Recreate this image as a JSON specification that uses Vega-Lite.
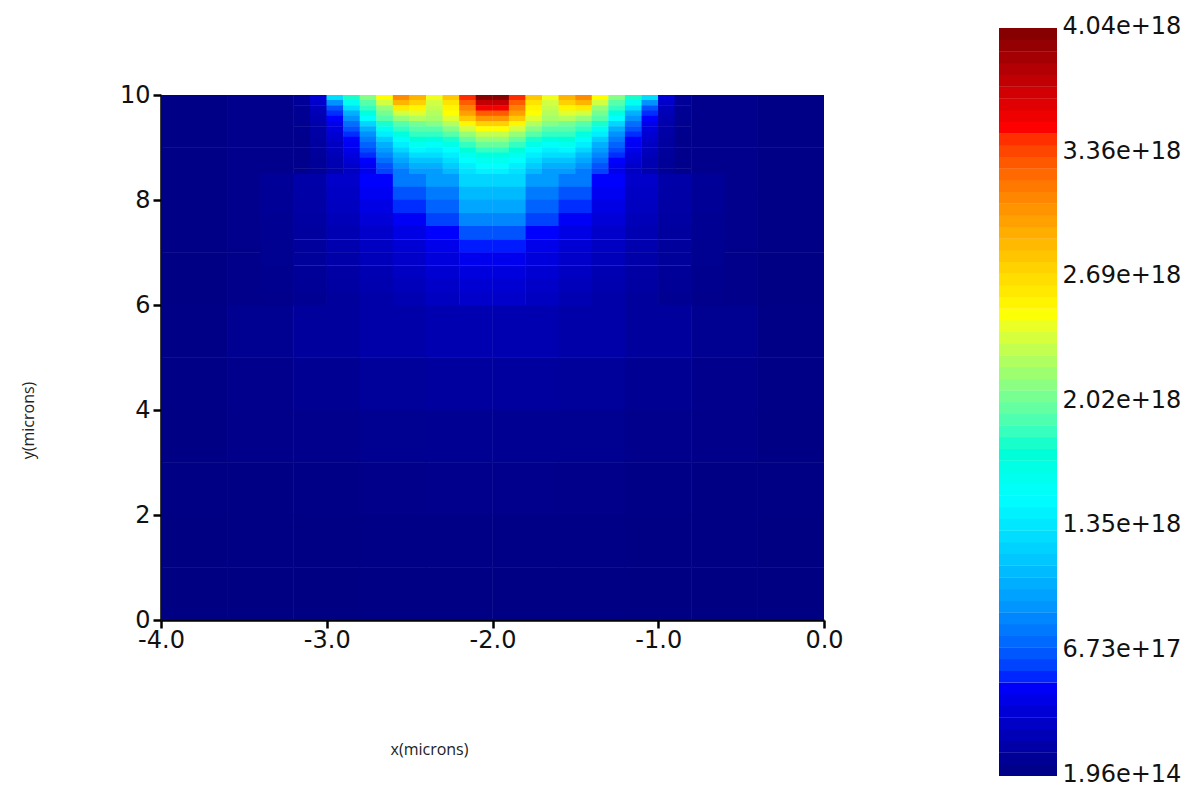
{"$schema":"https://vega.github.io/schema/vega-lite/v6.json","width":663,"height":525,"background":"white","padding":{"left":20,"top":14,"right":5,"bottom":5},
"config":{"view":{"stroke":null},"axis":{"labelFont":"DejaVu Sans","titleFont":"Open Sans","labelColor":"#111","titleColor":"#222"}},
"datasets":{
"base":[
{"x":-3.8,"y":9.5,"v":3e16},{"x":-3.4,"y":9.5,"v":5e16},{"x":-0.6,"y":9.5,"v":5e16},{"x":-0.2,"y":9.5,"v":3e16},
{"x":-3.8,"y":8.5,"v":3e16},{"x":-3.4,"y":8.5,"v":5e16},{"x":-0.6,"y":8.5,"v":5e16},{"x":-0.2,"y":8.5,"v":3e16},
{"x":-3.8,"y":7.5,"v":3e16},{"x":-3.4,"y":7.5,"v":5e16},{"x":-0.6,"y":7.5,"v":5e16},{"x":-0.2,"y":7.5,"v":3e16},
{"x":-3.8,"y":6.5,"v":2e16},{"x":-3.4,"y":6.5,"v":4e16},{"x":-0.6,"y":6.5,"v":4e16},{"x":-0.2,"y":6.5,"v":2e16},
{"x":-3.8,"y":5.5,"v":3e16},{"x":-3.4,"y":5.5,"v":7e16},{"x":-3.0,"y":5.5,"v":12e16},{"x":-2.6,"y":5.5,"v":17e16},{"x":-2.2,"y":5.5,"v":20e16},{"x":-1.8,"y":5.5,"v":20e16},{"x":-1.4,"y":5.5,"v":17e16},{"x":-1.0,"y":5.5,"v":12e16},{"x":-0.6,"y":5.5,"v":7e16},{"x":-0.2,"y":5.5,"v":3e16},
{"x":-3.8,"y":4.5,"v":3e16},{"x":-3.4,"y":4.5,"v":5e16},{"x":-3.0,"y":4.5,"v":8e16},{"x":-2.6,"y":4.5,"v":11e16},{"x":-2.2,"y":4.5,"v":13e16},{"x":-1.8,"y":4.5,"v":13e16},{"x":-1.4,"y":4.5,"v":11e16},{"x":-1.0,"y":4.5,"v":8e16},{"x":-0.6,"y":4.5,"v":5e16},{"x":-0.2,"y":4.5,"v":3e16},
{"x":-3.8,"y":3.5,"v":2e16},{"x":-3.4,"y":3.5,"v":4e16},{"x":-3.0,"y":3.5,"v":5e16},{"x":-2.6,"y":3.5,"v":7e16},{"x":-2.2,"y":3.5,"v":8e16},{"x":-1.8,"y":3.5,"v":8e16},{"x":-1.4,"y":3.5,"v":7e16},{"x":-1.0,"y":3.5,"v":5e16},{"x":-0.6,"y":3.5,"v":4e16},{"x":-0.2,"y":3.5,"v":2e16},
{"x":-3.8,"y":2.5,"v":2e16},{"x":-3.4,"y":2.5,"v":2e16},{"x":-3.0,"y":2.5,"v":3e16},{"x":-2.6,"y":2.5,"v":4e16},{"x":-2.2,"y":2.5,"v":5e16},{"x":-1.8,"y":2.5,"v":5e16},{"x":-1.4,"y":2.5,"v":4e16},{"x":-1.0,"y":2.5,"v":3e16},{"x":-0.6,"y":2.5,"v":2e16},{"x":-0.2,"y":2.5,"v":2e16},
{"x":-3.8,"y":1.5,"v":1e16},{"x":-3.4,"y":1.5,"v":2e16},{"x":-3.0,"y":1.5,"v":2e16},{"x":-2.6,"y":1.5,"v":3e16},{"x":-2.2,"y":1.5,"v":3e16},{"x":-1.8,"y":1.5,"v":3e16},{"x":-1.4,"y":1.5,"v":3e16},{"x":-1.0,"y":1.5,"v":2e16},{"x":-0.6,"y":1.5,"v":2e16},{"x":-0.2,"y":1.5,"v":1e16},
{"x":-3.8,"y":0.5,"v":1e16},{"x":-3.4,"y":0.5,"v":1e16},{"x":-3.0,"y":0.5,"v":1e16},{"x":-2.6,"y":0.5,"v":2e16},{"x":-2.2,"y":0.5,"v":2e16},{"x":-1.8,"y":0.5,"v":2e16},{"x":-1.4,"y":0.5,"v":2e16},{"x":-1.0,"y":0.5,"v":1e16},{"x":-0.6,"y":0.5,"v":1e16},{"x":-0.2,"y":0.5,"v":1e16}
],
"mid":[
{"x":-3.3,"y":8.375,"v":1e17},{"x":-3.1,"y":8.375,"v":1.7e17},{"x":-2.9,"y":8.375,"v":3e17},{"x":-2.7,"y":8.375,"v":5e17},{"x":-2.5,"y":8.375,"v":8e17},{"x":-2.3,"y":8.375,"v":9.5e17},{"x":-2.1,"y":8.375,"v":1.25e18},{"x":-1.9,"y":8.375,"v":1.25e18},{"x":-1.7,"y":8.375,"v":9.5e17},{"x":-1.5,"y":8.375,"v":8e17},{"x":-1.3,"y":8.375,"v":5e17},{"x":-1.1,"y":8.375,"v":3e17},{"x":-0.9,"y":8.375,"v":1.7e17},{"x":-0.7,"y":8.375,"v":1e17},
{"x":-3.3,"y":8.125,"v":9e16},{"x":-3.1,"y":8.125,"v":1.6e17},{"x":-2.9,"y":8.125,"v":2.8e17},{"x":-2.7,"y":8.125,"v":4.5e17},{"x":-2.5,"y":8.125,"v":6.5e17},{"x":-2.3,"y":8.125,"v":8e17},{"x":-2.1,"y":8.125,"v":1.1e18},{"x":-1.9,"y":8.125,"v":1.1e18},{"x":-1.7,"y":8.125,"v":8e17},{"x":-1.5,"y":8.125,"v":6.5e17},{"x":-1.3,"y":8.125,"v":4.5e17},{"x":-1.1,"y":8.125,"v":2.8e17},{"x":-0.9,"y":8.125,"v":1.6e17},{"x":-0.7,"y":8.125,"v":9e16},
{"x":-3.3,"y":7.875,"v":9e16},{"x":-3.1,"y":7.875,"v":1.5e17},{"x":-2.9,"y":7.875,"v":2.6e17},{"x":-2.7,"y":7.875,"v":4e17},{"x":-2.5,"y":7.875,"v":5.5e17},{"x":-2.3,"y":7.875,"v":7e17},{"x":-2.1,"y":7.875,"v":1e18},{"x":-1.9,"y":7.875,"v":1e18},{"x":-1.7,"y":7.875,"v":7e17},{"x":-1.5,"y":7.875,"v":5.5e17},{"x":-1.3,"y":7.875,"v":4e17},{"x":-1.1,"y":7.875,"v":2.6e17},{"x":-0.9,"y":7.875,"v":1.5e17},{"x":-0.7,"y":7.875,"v":9e16},
{"x":-3.3,"y":7.625,"v":8e16},{"x":-3.1,"y":7.625,"v":1.4e17},{"x":-2.9,"y":7.625,"v":2.3e17},{"x":-2.7,"y":7.625,"v":3.5e17},{"x":-2.5,"y":7.625,"v":4.7e17},{"x":-2.3,"y":7.625,"v":6e17},{"x":-2.1,"y":7.625,"v":8.5e17},{"x":-1.9,"y":7.625,"v":8.5e17},{"x":-1.7,"y":7.625,"v":6e17},{"x":-1.5,"y":7.625,"v":4.7e17},{"x":-1.3,"y":7.625,"v":3.5e17},{"x":-1.1,"y":7.625,"v":2.3e17},{"x":-0.9,"y":7.625,"v":1.4e17},{"x":-0.7,"y":7.625,"v":8e16},
{"x":-3.3,"y":7.375,"v":8e16},{"x":-3.1,"y":7.375,"v":1.3e17},{"x":-2.9,"y":7.375,"v":2.1e17},{"x":-2.7,"y":7.375,"v":3e17},{"x":-2.5,"y":7.375,"v":4e17},{"x":-2.3,"y":7.375,"v":5e17},{"x":-2.1,"y":7.375,"v":6.5e17},{"x":-1.9,"y":7.375,"v":6.5e17},{"x":-1.7,"y":7.375,"v":5e17},{"x":-1.5,"y":7.375,"v":4e17},{"x":-1.3,"y":7.375,"v":3e17},{"x":-1.1,"y":7.375,"v":2.1e17},{"x":-0.9,"y":7.375,"v":1.3e17},{"x":-0.7,"y":7.375,"v":8e16},
{"x":-3.3,"y":7.125,"v":7e16},{"x":-3.1,"y":7.125,"v":1.2e17},{"x":-2.9,"y":7.125,"v":1.9e17},{"x":-2.7,"y":7.125,"v":2.7e17},{"x":-2.5,"y":7.125,"v":3.4e17},{"x":-2.3,"y":7.125,"v":4.2e17},{"x":-2.1,"y":7.125,"v":5.2e17},{"x":-1.9,"y":7.125,"v":5.2e17},{"x":-1.7,"y":7.125,"v":4.2e17},{"x":-1.5,"y":7.125,"v":3.4e17},{"x":-1.3,"y":7.125,"v":2.7e17},{"x":-1.1,"y":7.125,"v":1.9e17},{"x":-0.9,"y":7.125,"v":1.2e17},{"x":-0.7,"y":7.125,"v":7e16},
{"x":-3.3,"y":6.875,"v":7e16},{"x":-3.1,"y":6.875,"v":1.1e17},{"x":-2.9,"y":6.875,"v":1.7e17},{"x":-2.7,"y":6.875,"v":2.4e17},{"x":-2.5,"y":6.875,"v":3e17},{"x":-2.3,"y":6.875,"v":3.7e17},{"x":-2.1,"y":6.875,"v":4.4e17},{"x":-1.9,"y":6.875,"v":4.4e17},{"x":-1.7,"y":6.875,"v":3.7e17},{"x":-1.5,"y":6.875,"v":3e17},{"x":-1.3,"y":6.875,"v":2.4e17},{"x":-1.1,"y":6.875,"v":1.7e17},{"x":-0.9,"y":6.875,"v":1.1e17},{"x":-0.7,"y":6.875,"v":7e16},
{"x":-3.3,"y":6.625,"v":6e16},{"x":-3.1,"y":6.625,"v":1e17},{"x":-2.9,"y":6.625,"v":1.5e17},{"x":-2.7,"y":6.625,"v":2.1e17},{"x":-2.5,"y":6.625,"v":2.7e17},{"x":-2.3,"y":6.625,"v":3.3e17},{"x":-2.1,"y":6.625,"v":3.8e17},{"x":-1.9,"y":6.625,"v":3.8e17},{"x":-1.7,"y":6.625,"v":3.3e17},{"x":-1.5,"y":6.625,"v":2.7e17},{"x":-1.3,"y":6.625,"v":2.1e17},{"x":-1.1,"y":6.625,"v":1.5e17},{"x":-0.9,"y":6.625,"v":1e17},{"x":-0.7,"y":6.625,"v":6e16},
{"x":-3.3,"y":6.375,"v":6e16},{"x":-3.1,"y":6.375,"v":9e16},{"x":-2.9,"y":6.375,"v":1.4e17},{"x":-2.7,"y":6.375,"v":1.9e17},{"x":-2.5,"y":6.375,"v":2.4e17},{"x":-2.3,"y":6.375,"v":2.9e17},{"x":-2.1,"y":6.375,"v":3.3e17},{"x":-1.9,"y":6.375,"v":3.3e17},{"x":-1.7,"y":6.375,"v":2.9e17},{"x":-1.5,"y":6.375,"v":2.4e17},{"x":-1.3,"y":6.375,"v":1.9e17},{"x":-1.1,"y":6.375,"v":1.4e17},{"x":-0.9,"y":6.375,"v":9e16},{"x":-0.7,"y":6.375,"v":6e16},
{"x":-3.3,"y":6.125,"v":5e16},{"x":-3.1,"y":6.125,"v":8e16},{"x":-2.9,"y":6.125,"v":1.2e17},{"x":-2.7,"y":6.125,"v":1.7e17},{"x":-2.5,"y":6.125,"v":2.1e17},{"x":-2.3,"y":6.125,"v":2.6e17},{"x":-2.1,"y":6.125,"v":3e17},{"x":-1.9,"y":6.125,"v":3e17},{"x":-1.7,"y":6.125,"v":2.6e17},{"x":-1.5,"y":6.125,"v":2.1e17},{"x":-1.3,"y":6.125,"v":1.7e17},{"x":-1.1,"y":6.125,"v":1.2e17},{"x":-0.9,"y":6.125,"v":8e16},{"x":-0.7,"y":6.125,"v":5e16}
],
"fine":[
{"x":-3.15,"y":9.95,"v":1e17},{"x":-3.05,"y":9.95,"v":3.5e17},{"x":-2.95,"y":9.95,"v":1.3e18},{"x":-2.85,"y":9.95,"v":1.8e18},{"x":-2.75,"y":9.95,"v":2.1e18},{"x":-2.65,"y":9.95,"v":2.5e18},{"x":-2.55,"y":9.95,"v":3.1e18},{"x":-2.45,"y":9.95,"v":2.9e18},{"x":-2.35,"y":9.95,"v":2.45e18},{"x":-2.25,"y":9.95,"v":2.8e18},{"x":-2.15,"y":9.95,"v":3.45e18},{"x":-2.05,"y":9.95,"v":4e18},{"x":-1.95,"y":9.95,"v":4e18},{"x":-1.85,"y":9.95,"v":3.45e18},{"x":-1.75,"y":9.95,"v":2.8e18},{"x":-1.65,"y":9.95,"v":2.45e18},{"x":-1.55,"y":9.95,"v":2.9e18},{"x":-1.45,"y":9.95,"v":3.1e18},{"x":-1.35,"y":9.95,"v":2.5e18},{"x":-1.25,"y":9.95,"v":2.1e18},{"x":-1.15,"y":9.95,"v":1.8e18},{"x":-1.05,"y":9.95,"v":1.3e18},{"x":-0.95,"y":9.95,"v":3.5e17},{"x":-0.85,"y":9.95,"v":1e17},
{"x":-3.15,"y":9.85,"v":1e17},{"x":-3.05,"y":9.85,"v":3e17},{"x":-2.95,"y":9.85,"v":9e17},{"x":-2.85,"y":9.85,"v":1.6e18},{"x":-2.75,"y":9.85,"v":1.95e18},{"x":-2.65,"y":9.85,"v":2.35e18},{"x":-2.55,"y":9.85,"v":2.9e18},{"x":-2.45,"y":9.85,"v":2.75e18},{"x":-2.35,"y":9.85,"v":2.35e18},{"x":-2.25,"y":9.85,"v":2.65e18},{"x":-2.15,"y":9.85,"v":3.3e18},{"x":-2.05,"y":9.85,"v":3.75e18},{"x":-1.95,"y":9.85,"v":3.75e18},{"x":-1.85,"y":9.85,"v":3.3e18},{"x":-1.75,"y":9.85,"v":2.65e18},{"x":-1.65,"y":9.85,"v":2.35e18},{"x":-1.55,"y":9.85,"v":2.75e18},{"x":-1.45,"y":9.85,"v":2.9e18},{"x":-1.35,"y":9.85,"v":2.35e18},{"x":-1.25,"y":9.85,"v":1.95e18},{"x":-1.15,"y":9.85,"v":1.6e18},{"x":-1.05,"y":9.85,"v":9e17},{"x":-0.95,"y":9.85,"v":3e17},{"x":-0.85,"y":9.85,"v":1e17},
{"x":-3.15,"y":9.75,"v":8e16},{"x":-3.05,"y":9.75,"v":2.5e17},{"x":-2.95,"y":9.75,"v":6.5e17},{"x":-2.85,"y":9.75,"v":1.3e18},{"x":-2.75,"y":9.75,"v":1.85e18},{"x":-2.65,"y":9.75,"v":2.15e18},{"x":-2.55,"y":9.75,"v":2.6e18},{"x":-2.45,"y":9.75,"v":2.55e18},{"x":-2.35,"y":9.75,"v":2.3e18},{"x":-2.25,"y":9.75,"v":2.55e18},{"x":-2.15,"y":9.75,"v":3.15e18},{"x":-2.05,"y":9.75,"v":3.55e18},{"x":-1.95,"y":9.75,"v":3.55e18},{"x":-1.85,"y":9.75,"v":3.15e18},{"x":-1.75,"y":9.75,"v":2.55e18},{"x":-1.65,"y":9.75,"v":2.3e18},{"x":-1.55,"y":9.75,"v":2.55e18},{"x":-1.45,"y":9.75,"v":2.6e18},{"x":-1.35,"y":9.75,"v":2.15e18},{"x":-1.25,"y":9.75,"v":1.85e18},{"x":-1.15,"y":9.75,"v":1.3e18},{"x":-1.05,"y":9.75,"v":6.5e17},{"x":-0.95,"y":9.75,"v":2.5e17},{"x":-0.85,"y":9.75,"v":8e16},
{"x":-3.15,"y":9.65,"v":8e16},{"x":-3.05,"y":9.65,"v":2.2e17},{"x":-2.95,"y":9.65,"v":5.5e17},{"x":-2.85,"y":9.65,"v":1.05e18},{"x":-2.75,"y":9.65,"v":1.7e18},{"x":-2.65,"y":9.65,"v":2.05e18},{"x":-2.55,"y":9.65,"v":2.35e18},{"x":-2.45,"y":9.65,"v":2.4e18},{"x":-2.35,"y":9.65,"v":2.25e18},{"x":-2.25,"y":9.65,"v":2.5e18},{"x":-2.15,"y":9.65,"v":3e18},{"x":-2.05,"y":9.65,"v":3.3e18},{"x":-1.95,"y":9.65,"v":3.3e18},{"x":-1.85,"y":9.65,"v":3e18},{"x":-1.75,"y":9.65,"v":2.5e18},{"x":-1.65,"y":9.65,"v":2.25e18},{"x":-1.55,"y":9.65,"v":2.4e18},{"x":-1.45,"y":9.65,"v":2.35e18},{"x":-1.35,"y":9.65,"v":2.05e18},{"x":-1.25,"y":9.65,"v":1.7e18},{"x":-1.15,"y":9.65,"v":1.05e18},{"x":-1.05,"y":9.65,"v":5.5e17},{"x":-0.95,"y":9.65,"v":2.2e17},{"x":-0.85,"y":9.65,"v":8e16},
{"x":-3.15,"y":9.55,"v":7e16},{"x":-3.05,"y":9.55,"v":2e17},{"x":-2.95,"y":9.55,"v":5e17},{"x":-2.85,"y":9.55,"v":9e17},{"x":-2.75,"y":9.55,"v":1.5e18},{"x":-2.65,"y":9.55,"v":1.95e18},{"x":-2.55,"y":9.55,"v":2.15e18},{"x":-2.45,"y":9.55,"v":2.25e18},{"x":-2.35,"y":9.55,"v":2.2e18},{"x":-2.25,"y":9.55,"v":2.4e18},{"x":-2.15,"y":9.55,"v":2.8e18},{"x":-2.05,"y":9.55,"v":3.05e18},{"x":-1.95,"y":9.55,"v":3.05e18},{"x":-1.85,"y":9.55,"v":2.8e18},{"x":-1.75,"y":9.55,"v":2.4e18},{"x":-1.65,"y":9.55,"v":2.2e18},{"x":-1.55,"y":9.55,"v":2.25e18},{"x":-1.45,"y":9.55,"v":2.15e18},{"x":-1.35,"y":9.55,"v":1.95e18},{"x":-1.25,"y":9.55,"v":1.5e18},{"x":-1.15,"y":9.55,"v":9e17},{"x":-1.05,"y":9.55,"v":5e17},{"x":-0.95,"y":9.55,"v":2e17},{"x":-0.85,"y":9.55,"v":7e16},
{"x":-3.15,"y":9.45,"v":7e16},{"x":-3.05,"y":9.45,"v":1.8e17},{"x":-2.95,"y":9.45,"v":4.2e17},{"x":-2.85,"y":9.45,"v":7.5e17},{"x":-2.75,"y":9.45,"v":1.25e18},{"x":-2.65,"y":9.45,"v":1.8e18},{"x":-2.55,"y":9.45,"v":1.95e18},{"x":-2.45,"y":9.45,"v":2.05e18},{"x":-2.35,"y":9.45,"v":2.1e18},{"x":-2.25,"y":9.45,"v":2.25e18},{"x":-2.15,"y":9.45,"v":2.55e18},{"x":-2.05,"y":9.45,"v":2.75e18},{"x":-1.95,"y":9.45,"v":2.75e18},{"x":-1.85,"y":9.45,"v":2.55e18},{"x":-1.75,"y":9.45,"v":2.25e18},{"x":-1.65,"y":9.45,"v":2.1e18},{"x":-1.55,"y":9.45,"v":2.05e18},{"x":-1.45,"y":9.45,"v":1.95e18},{"x":-1.35,"y":9.45,"v":1.8e18},{"x":-1.25,"y":9.45,"v":1.25e18},{"x":-1.15,"y":9.45,"v":7.5e17},{"x":-1.05,"y":9.45,"v":4.2e17},{"x":-0.95,"y":9.45,"v":1.8e17},{"x":-0.85,"y":9.45,"v":7e16},
{"x":-3.15,"y":9.35,"v":6e16},{"x":-3.05,"y":9.35,"v":1.6e17},{"x":-2.95,"y":9.35,"v":3.8e17},{"x":-2.85,"y":9.35,"v":6.5e17},{"x":-2.75,"y":9.35,"v":1.05e18},{"x":-2.65,"y":9.35,"v":1.6e18},{"x":-2.55,"y":9.35,"v":1.85e18},{"x":-2.45,"y":9.35,"v":1.95e18},{"x":-2.35,"y":9.35,"v":1.95e18},{"x":-2.25,"y":9.35,"v":2.1e18},{"x":-2.15,"y":9.35,"v":2.35e18},{"x":-2.05,"y":9.35,"v":2.5e18},{"x":-1.95,"y":9.35,"v":2.5e18},{"x":-1.85,"y":9.35,"v":2.35e18},{"x":-1.75,"y":9.35,"v":2.1e18},{"x":-1.65,"y":9.35,"v":1.95e18},{"x":-1.55,"y":9.35,"v":1.95e18},{"x":-1.45,"y":9.35,"v":1.85e18},{"x":-1.35,"y":9.35,"v":1.6e18},{"x":-1.25,"y":9.35,"v":1.05e18},{"x":-1.15,"y":9.35,"v":6.5e17},{"x":-1.05,"y":9.35,"v":3.8e17},{"x":-0.95,"y":9.35,"v":1.6e17},{"x":-0.85,"y":9.35,"v":6e16},
{"x":-3.15,"y":9.25,"v":6e16},{"x":-3.05,"y":9.25,"v":1.5e17},{"x":-2.95,"y":9.25,"v":3.3e17},{"x":-2.85,"y":9.25,"v":5.5e17},{"x":-2.75,"y":9.25,"v":9e17},{"x":-2.65,"y":9.25,"v":1.4e18},{"x":-2.55,"y":9.25,"v":1.7e18},{"x":-2.45,"y":9.25,"v":1.85e18},{"x":-2.35,"y":9.25,"v":1.85e18},{"x":-2.25,"y":9.25,"v":1.95e18},{"x":-2.15,"y":9.25,"v":2.15e18},{"x":-2.05,"y":9.25,"v":2.3e18},{"x":-1.95,"y":9.25,"v":2.3e18},{"x":-1.85,"y":9.25,"v":2.15e18},{"x":-1.75,"y":9.25,"v":1.95e18},{"x":-1.65,"y":9.25,"v":1.85e18},{"x":-1.55,"y":9.25,"v":1.85e18},{"x":-1.45,"y":9.25,"v":1.7e18},{"x":-1.35,"y":9.25,"v":1.4e18},{"x":-1.25,"y":9.25,"v":9e17},{"x":-1.15,"y":9.25,"v":5.5e17},{"x":-1.05,"y":9.25,"v":3.3e17},{"x":-0.95,"y":9.25,"v":1.5e17},{"x":-0.85,"y":9.25,"v":6e16},
{"x":-3.15,"y":9.15,"v":5e16},{"x":-3.05,"y":9.15,"v":1.4e17},{"x":-2.95,"y":9.15,"v":3e17},{"x":-2.85,"y":9.15,"v":5e17},{"x":-2.75,"y":9.15,"v":8e17},{"x":-2.65,"y":9.15,"v":1.2e18},{"x":-2.55,"y":9.15,"v":1.55e18},{"x":-2.45,"y":9.15,"v":1.75e18},{"x":-2.35,"y":9.15,"v":1.7e18},{"x":-2.25,"y":9.15,"v":1.8e18},{"x":-2.15,"y":9.15,"v":2e18},{"x":-2.05,"y":9.15,"v":2.15e18},{"x":-1.95,"y":9.15,"v":2.15e18},{"x":-1.85,"y":9.15,"v":2e18},{"x":-1.75,"y":9.15,"v":1.8e18},{"x":-1.65,"y":9.15,"v":1.7e18},{"x":-1.55,"y":9.15,"v":1.75e18},{"x":-1.45,"y":9.15,"v":1.55e18},{"x":-1.35,"y":9.15,"v":1.2e18},{"x":-1.25,"y":9.15,"v":8e17},{"x":-1.15,"y":9.15,"v":5e17},{"x":-1.05,"y":9.15,"v":3e17},{"x":-0.95,"y":9.15,"v":1.4e17},{"x":-0.85,"y":9.15,"v":5e16},
{"x":-3.15,"y":9.05,"v":5e16},{"x":-3.05,"y":9.05,"v":1.3e17},{"x":-2.95,"y":9.05,"v":2.7e17},{"x":-2.85,"y":9.05,"v":4.5e17},{"x":-2.75,"y":9.05,"v":7e17},{"x":-2.65,"y":9.05,"v":1.05e18},{"x":-2.55,"y":9.05,"v":1.4e18},{"x":-2.45,"y":9.05,"v":1.6e18},{"x":-2.35,"y":9.05,"v":1.55e18},{"x":-2.25,"y":9.05,"v":1.65e18},{"x":-2.15,"y":9.05,"v":1.85e18},{"x":-2.05,"y":9.05,"v":2e18},{"x":-1.95,"y":9.05,"v":2e18},{"x":-1.85,"y":9.05,"v":1.85e18},{"x":-1.75,"y":9.05,"v":1.65e18},{"x":-1.65,"y":9.05,"v":1.55e18},{"x":-1.55,"y":9.05,"v":1.6e18},{"x":-1.45,"y":9.05,"v":1.4e18},{"x":-1.35,"y":9.05,"v":1.05e18},{"x":-1.25,"y":9.05,"v":7e17},{"x":-1.15,"y":9.05,"v":4.5e17},{"x":-1.05,"y":9.05,"v":2.7e17},{"x":-0.95,"y":9.05,"v":1.3e17},{"x":-0.85,"y":9.05,"v":5e16},
{"x":-3.15,"y":8.95,"v":5e16},{"x":-3.05,"y":8.95,"v":1.2e17},{"x":-2.95,"y":8.95,"v":2.5e17},{"x":-2.85,"y":8.95,"v":4.2e17},{"x":-2.75,"y":8.95,"v":6.2e17},{"x":-2.65,"y":8.95,"v":9.5e17},{"x":-2.55,"y":8.95,"v":1.25e18},{"x":-2.45,"y":8.95,"v":1.45e18},{"x":-2.35,"y":8.95,"v":1.4e18},{"x":-2.25,"y":8.95,"v":1.5e18},{"x":-2.15,"y":8.95,"v":1.75e18},{"x":-2.05,"y":8.95,"v":1.85e18},{"x":-1.95,"y":8.95,"v":1.85e18},{"x":-1.85,"y":8.95,"v":1.75e18},{"x":-1.75,"y":8.95,"v":1.5e18},{"x":-1.65,"y":8.95,"v":1.4e18},{"x":-1.55,"y":8.95,"v":1.45e18},{"x":-1.45,"y":8.95,"v":1.25e18},{"x":-1.35,"y":8.95,"v":9.5e17},{"x":-1.25,"y":8.95,"v":6.2e17},{"x":-1.15,"y":8.95,"v":4.2e17},{"x":-1.05,"y":8.95,"v":2.5e17},{"x":-0.95,"y":8.95,"v":1.2e17},{"x":-0.85,"y":8.95,"v":5e16},
{"x":-3.15,"y":8.85,"v":5e16},{"x":-3.05,"y":8.85,"v":1.1e17},{"x":-2.95,"y":8.85,"v":2.3e17},{"x":-2.85,"y":8.85,"v":3.8e17},{"x":-2.75,"y":8.85,"v":5.5e17},{"x":-2.65,"y":8.85,"v":8.5e17},{"x":-2.55,"y":8.85,"v":1.1e18},{"x":-2.45,"y":8.85,"v":1.3e18},{"x":-2.35,"y":8.85,"v":1.3e18},{"x":-2.25,"y":8.85,"v":1.4e18},{"x":-2.15,"y":8.85,"v":1.6e18},{"x":-2.05,"y":8.85,"v":1.7e18},{"x":-1.95,"y":8.85,"v":1.7e18},{"x":-1.85,"y":8.85,"v":1.6e18},{"x":-1.75,"y":8.85,"v":1.4e18},{"x":-1.65,"y":8.85,"v":1.3e18},{"x":-1.55,"y":8.85,"v":1.3e18},{"x":-1.45,"y":8.85,"v":1.1e18},{"x":-1.35,"y":8.85,"v":8.5e17},{"x":-1.25,"y":8.85,"v":5.5e17},{"x":-1.15,"y":8.85,"v":3.8e17},{"x":-1.05,"y":8.85,"v":2.3e17},{"x":-0.95,"y":8.85,"v":1.1e17},{"x":-0.85,"y":8.85,"v":5e16},
{"x":-3.15,"y":8.75,"v":5e16},{"x":-3.05,"y":8.75,"v":1e17},{"x":-2.95,"y":8.75,"v":2.1e17},{"x":-2.85,"y":8.75,"v":3.4e17},{"x":-2.75,"y":8.75,"v":5e17},{"x":-2.65,"y":8.75,"v":7.5e17},{"x":-2.55,"y":8.75,"v":1e18},{"x":-2.45,"y":8.75,"v":1.15e18},{"x":-2.35,"y":8.75,"v":1.15e18},{"x":-2.25,"y":8.75,"v":1.3e18},{"x":-2.15,"y":8.75,"v":1.5e18},{"x":-2.05,"y":8.75,"v":1.6e18},{"x":-1.95,"y":8.75,"v":1.6e18},{"x":-1.85,"y":8.75,"v":1.5e18},{"x":-1.75,"y":8.75,"v":1.3e18},{"x":-1.65,"y":8.75,"v":1.15e18},{"x":-1.55,"y":8.75,"v":1.15e18},{"x":-1.45,"y":8.75,"v":1e18},{"x":-1.35,"y":8.75,"v":7.5e17},{"x":-1.25,"y":8.75,"v":5e17},{"x":-1.15,"y":8.75,"v":3.4e17},{"x":-1.05,"y":8.75,"v":2.1e17},{"x":-0.95,"y":8.75,"v":1e17},{"x":-0.85,"y":8.75,"v":5e16},
{"x":-3.15,"y":8.65,"v":5e16},{"x":-3.05,"y":8.65,"v":1e17},{"x":-2.95,"y":8.65,"v":2e17},{"x":-2.85,"y":8.65,"v":3e17},{"x":-2.75,"y":8.65,"v":4.5e17},{"x":-2.65,"y":8.65,"v":6.5e17},{"x":-2.55,"y":8.65,"v":9e17},{"x":-2.45,"y":8.65,"v":1.05e18},{"x":-2.35,"y":8.65,"v":1.05e18},{"x":-2.25,"y":8.65,"v":1.2e18},{"x":-2.15,"y":8.65,"v":1.4e18},{"x":-2.05,"y":8.65,"v":1.5e18},{"x":-1.95,"y":8.65,"v":1.5e18},{"x":-1.85,"y":8.65,"v":1.4e18},{"x":-1.75,"y":8.65,"v":1.2e18},{"x":-1.65,"y":8.65,"v":1.05e18},{"x":-1.55,"y":8.65,"v":1.05e18},{"x":-1.45,"y":8.65,"v":9e17},{"x":-1.35,"y":8.65,"v":6.5e17},{"x":-1.25,"y":8.65,"v":4.5e17},{"x":-1.15,"y":8.65,"v":3e17},{"x":-1.05,"y":8.65,"v":2e17},{"x":-0.95,"y":8.65,"v":1e17},{"x":-0.85,"y":8.65,"v":5e16},
{"x":-3.15,"y":8.55,"v":5e16},{"x":-3.05,"y":8.55,"v":9e16},{"x":-2.95,"y":8.55,"v":1.8e17},{"x":-2.85,"y":8.55,"v":2.8e17},{"x":-2.75,"y":8.55,"v":4.2e17},{"x":-2.65,"y":8.55,"v":6e17},{"x":-2.55,"y":8.55,"v":8e17},{"x":-2.45,"y":8.55,"v":9.5e17},{"x":-2.35,"y":8.55,"v":9.5e17},{"x":-2.25,"y":8.55,"v":1.1e18},{"x":-2.15,"y":8.55,"v":1.33e18},{"x":-2.05,"y":8.55,"v":1.42e18},{"x":-1.95,"y":8.55,"v":1.42e18},{"x":-1.85,"y":8.55,"v":1.33e18},{"x":-1.75,"y":8.55,"v":1.1e18},{"x":-1.65,"y":8.55,"v":9.5e17},{"x":-1.55,"y":8.55,"v":9.5e17},{"x":-1.45,"y":8.55,"v":8e17},{"x":-1.35,"y":8.55,"v":6e17},{"x":-1.25,"y":8.55,"v":4.2e17},{"x":-1.15,"y":8.55,"v":2.8e17},{"x":-1.05,"y":8.55,"v":1.8e17},{"x":-0.95,"y":8.55,"v":9e16},{"x":-0.85,"y":8.55,"v":5e16}
],
"bar":[{"v":3.2e16},{"v":9.5e16},{"v":15.8e16},{"v":22.1e16},{"v":28.4e16},{"v":34.7e16},{"v":41.0e16},{"v":47.3e16},{"v":53.7e16},{"v":60.0e16},{"v":66.3e16},{"v":72.6e16},{"v":78.9e16},{"v":85.2e16},{"v":91.5e16},{"v":97.8e16},{"v":104.1e16},{"v":110.4e16},{"v":116.8e16},{"v":123.1e16},{"v":129.4e16},{"v":135.7e16},{"v":142.0e16},{"v":148.3e16},{"v":154.6e16},{"v":160.9e16},{"v":167.2e16},{"v":173.5e16},{"v":179.9e16},{"v":186.2e16},{"v":192.5e16},{"v":198.8e16},{"v":205.1e16},{"v":211.4e16},{"v":217.7e16},{"v":224.0e16},{"v":230.3e16},{"v":236.6e16},{"v":243.0e16},{"v":249.3e16},{"v":255.6e16},{"v":261.9e16},{"v":268.2e16},{"v":274.5e16},{"v":280.8e16},{"v":287.1e16},{"v":293.4e16},{"v":299.7e16},{"v":306.1e16},{"v":312.4e16},{"v":318.7e16},{"v":325.0e16},{"v":331.3e16},{"v":337.6e16},{"v":343.9e16},{"v":350.2e16},{"v":356.5e16},{"v":362.8e16},{"v":369.2e16},{"v":375.5e16},{"v":381.8e16},{"v":388.1e16},{"v":394.4e16},{"v":400.7e16}]
},
"layer":[
{"encoding":{
"x":{"field":"x","type":"quantitative","scale":{"domain":[-4,0],"nice":false,"zero":false},"axis":{"values":[-4,-3,-2,-1,0],"labelExpr":"replace(format(datum.value,'.1f'),'−','-')","grid":false,"domainColor":"black","domainWidth":2.5,"tickColor":"black","tickWidth":2.5,"tickSize":8,"labelFontSize":24,"labelPadding":0,"labelFlush":false,"title":"x(microns)","titleFontSize":16,"titleFontWeight":"normal","titleX":268,"titleY":121}},
"y":{"field":"y","type":"quantitative","scale":{"domain":[0,10],"nice":false},"axis":{"values":[0,2,4,6,8,10],"grid":false,"domainColor":"black","domainWidth":2.5,"tickColor":"black","tickWidth":2.5,"tickSize":8,"labelFontSize":24,"labelPadding":3,"title":"y(microns)","titleFontSize":16,"titleFontWeight":"normal","titleX":-125,"titleY":325}},
"color":{"field":"v","type":"quantitative","legend":null,"scale":{"domain":[0,5e17,1.5e18,2.5e18,3.5e18,4.04e18],"range":["#000080","#0000ff","#00ffff","#ffff00","#ff0000","#800000"],"clamp":true}}},
"layer":[
{"data":{"name":"base"},"mark":{"type":"rect","width":66.8,"height":53,"clip":true}},
{"data":{"name":"mid"},"mark":{"type":"rect","width":33.6,"height":13.6,"clip":true}},
{"data":{"name":"fine"},"mark":{"type":"rect","width":17,"height":5.7,"clip":true}}
]},
{"data":{"name":"bar"},"mark":{"type":"rect","height":12},
"encoding":{
"x":{"datum":0,"type":"quantitative","scale":{"domain":[0,1],"range":[838,896]},"axis":null},
"x2":{"datum":1},
"y":{"field":"v","type":"quantitative","scale":{"domain":[1.96e14,4.04e18],"range":[681,-67],"nice":false,"zero":false},"axis":{"orient":"right","offset":233,"values":[1.96e14,6.73e17,1.35e18,2.02e18,2.69e18,3.36e18,4.04e18],"format":".2e","domain":false,"ticks":false,"grid":false,"labelFontSize":24,"labelPadding":5,"labelOverlap":false,"labelBound":false,"labelOffset":-2,"title":null}},
"color":{"field":"v","type":"quantitative","legend":null}}}
],
"resolve":{"scale":{"x":"independent","y":"independent"}}}
